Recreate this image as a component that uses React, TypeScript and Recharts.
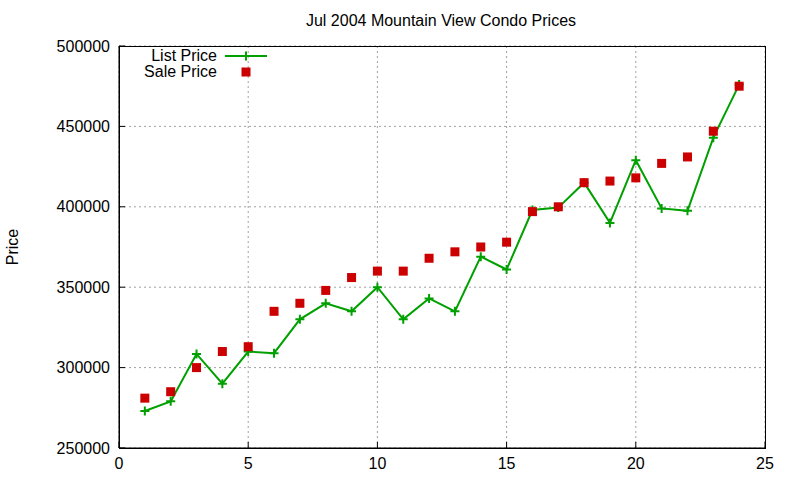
import { CartesianGrid, ComposedChart, Customized, Line, XAxis, YAxis } from 'recharts';

const days = [1, 2, 3, 4, 5, 6, 7, 8, 9, 10, 11, 12, 13, 14, 15, 16, 17, 18, 19, 20, 21, 22, 23, 24];

const listPrice = [
  273000, 279000, 308500, 290000, 310000, 309000, 330000, 340000, 335000, 350000, 330000, 343000,
  335000, 369000, 361000, 398000, 399500, 415000, 390000, 429000, 399000, 397500, 443000, 476000,
];

const salePrice = [
  281000, 285000, 300000, 310000, 313000, 335000, 340000, 348000, 356000, 360000, 360000, 368000,
  372000, 375000, 378000, 397000, 400000, 415000, 416000, 418000, 427000, 431000, 447000, 475000,
];

const xTicks = [0, 5, 10, 15, 20, 25];
const yTicks = [250000, 300000, 350000, 400000, 450000, 500000];

const data = days.map((d, i) => ({ day: d, list: listPrice[i], sale: salePrice[i] }));

const GREEN = '#00a000';
const RED = '#cc0000';
const FONT = '"Liberation Sans", Arial, sans-serif';

function PlusDot(props: any) {
  const { cx, cy } = props;
  if (cx == null || cy == null) return null;
  return (
    <path
      d={`M${cx - 4.5},${cy} h9 M${cx},${cy - 4.5} v9`}
      stroke={GREEN}
      strokeWidth={2}
      fill="none"
    />
  );
}

function SquareDot(props: any) {
  const { cx, cy } = props;
  if (cx == null || cy == null) return null;
  return <rect x={cx - 4.5} y={cy - 4.5} width={9} height={9} fill={RED} />;
}

function Decorations() {
  return (
    <g fontFamily={FONT} fontSize={16} fill="#000">
      <rect x={119.5} y={46.5} width={646} height={402} fill="none" stroke="#000" strokeWidth={1} />
      <text x={441} y={26} textAnchor="middle">
        Jul 2004 Mountain View Condo Prices
      </text>
      <text x={18} y={247} textAnchor="middle" transform="rotate(-90 18 247)">
        Price
      </text>
      <text x={217} y={61} textAnchor="end">List Price</text>
      <line x1={225} y1={56} x2={267} y2={56} stroke={GREEN} strokeWidth={2} />
      <path d="M241.5,56 h9 M246,51.5 v9" stroke={GREEN} strokeWidth={2} />
      <text x={217} y={77} textAnchor="end">Sale Price</text>
      <rect x={241.5} y={67.5} width={9} height={9} fill={RED} />
    </g>
  );
}

export default function App() {
  const tickStyle = { fontFamily: FONT, fontSize: 16, fill: '#000' };
  return (
    <div style={{ position: 'absolute', left: 0, top: 0, background: '#fff' }}>
      <ComposedChart
        width={800}
        height={480}
        data={data}
        margin={{ top: 46, right: 35, bottom: 2, left: 60 }}
      >
        <CartesianGrid stroke="#a0a0a0" strokeDasharray="2 3" />
        <XAxis
          dataKey="day"
          type="number"
          domain={[0, 25]}
          ticks={xTicks}
          height={30}
          stroke="#000"
          tickSize={-6}
          tickMargin={16}
          tick={tickStyle}
        />
        <XAxis
          xAxisId="top"
          orientation="top"
          type="number"
          dataKey="day"
          domain={[0, 25]}
          ticks={xTicks}
          height={0}
          stroke="#000"
          tickSize={-6}
          tickFormatter={() => ''}
        />
        <YAxis
          type="number"
          domain={[250000, 500000]}
          ticks={yTicks}
          width={59}
          stroke="#000"
          tickSize={-6}
          tickMargin={15}
          tick={tickStyle}
        />
        <YAxis
          yAxisId="right"
          orientation="right"
          type="number"
          domain={[250000, 500000]}
          ticks={yTicks}
          width={0}
          stroke="#000"
          tickSize={-6}
          tickFormatter={() => ''}
        />
        <Line
          dataKey="list"
          stroke={GREEN}
          strokeWidth={2}
          dot={<PlusDot />}
          activeDot={false}
          isAnimationActive={false}
        />
        <Line
          dataKey="sale"
          stroke="none"
          dot={<SquareDot />}
          activeDot={false}
          isAnimationActive={false}
        />
        <Customized component={Decorations} />
      </ComposedChart>
    </div>
  );
}
